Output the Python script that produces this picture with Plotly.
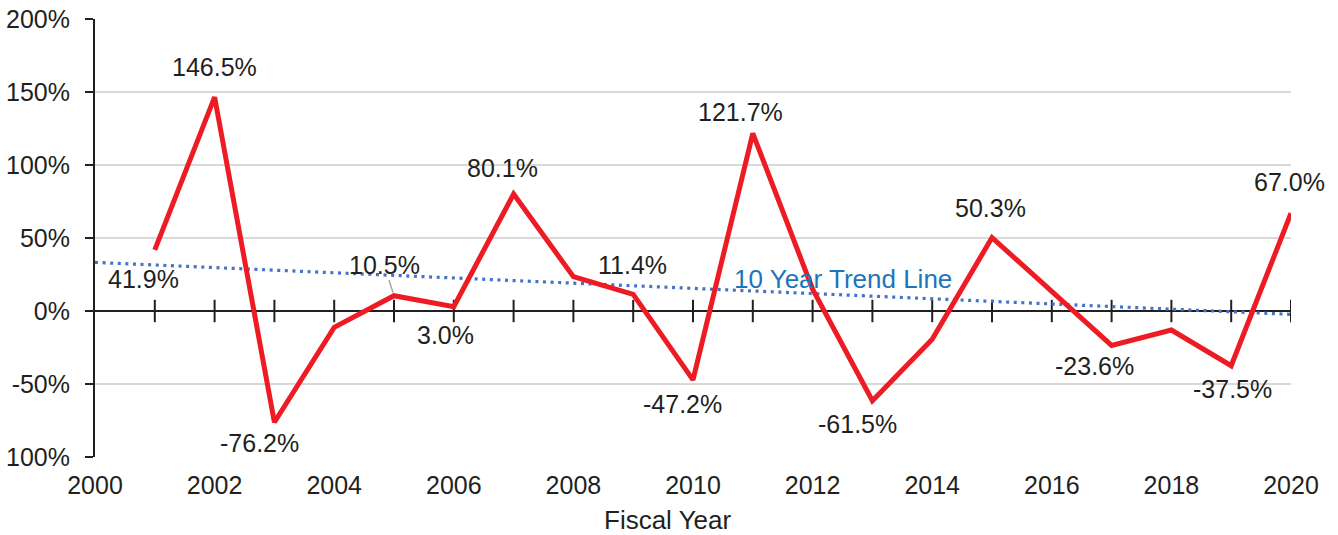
import plotly.graph_objects as go

# Annual change by fiscal year (percent)
years = list(range(2001, 2021))
growth = [41.9, 146.5, -76.2, -11.2, 10.5, 3.0, 80.1, 23.5, 11.4, -47.2,
          121.7, 15.0, -61.5, -19.4, 50.3, 13.5, -23.6, -13.0, -37.5, 67.0]

# Linear trend endpoints
trend_years = [2000, 2020]
trend_values = [33.3, -2.3]

# Axis ticks
x_ticks = list(range(2000, 2021, 2))
y_ticks = [200, 150, 100, 50, 0, -50, -100]
y_tick_text = ["200%", "150%", "100%", "50%", "0%", "-50%", "100%"]

# Which points get a value label, with pixel offsets (dx, dy; dy up is positive)
label_offsets = {
    2001: (-11, -29), 2002: (0, 30), 2003: (-15, -21), 2006: (-8, -28),
    2007: (-11, 26), 2009: (-1, 29), 2010: (-11, -24), 2011: (-12, 21),
    2013: (-15, -23), 2015: (-2, 30), 2017: (-17, -21), 2019: (1, -23),
    2020: (-2, 31),
}
leader_label_year = 2005

INK = "#231f20"
FONT = "Liberation Sans, Arial, sans-serif"
FS = 25
FS_BIG = 26

fig = go.Figure()

# Year tick marks sitting on the zero line
fig.add_trace(go.Scatter(
    x=years, y=[0] * len(years), mode="markers",
    marker=dict(symbol="line-ns", size=16, line=dict(width=2, color=INK)),
    hoverinfo="skip", showlegend=False,
))

# Trend line
fig.add_trace(go.Scatter(
    x=trend_years, y=trend_values, mode="lines",
    line=dict(color="#4472c4", width=3.2, dash="3px,4.6px"),
    hoverinfo="skip", showlegend=False,
))

# Main series
fig.add_trace(go.Scatter(
    x=years, y=growth, mode="lines",
    line=dict(color="#ed1c24", width=5),
    showlegend=False,
))

annotations = []
for yr, val in zip(years, growth):
    if yr in label_offsets:
        dx, dy = label_offsets[yr]
        annotations.append(dict(
            x=yr, y=val, xref="x", yref="y", text=f"{val:.1f}%",
            showarrow=False, xshift=dx, yshift=dy,
            font=dict(size=FS, color=INK, family=FONT),
        ))
    elif yr == leader_label_year:
        annotations.append(dict(
            x=yr, y=val, xref="x", yref="y", text=f"{val:.1f}%",
            showarrow=True, arrowhead=0, arrowwidth=1.5, arrowcolor="#a6a6a6",
            ax=-10, ay=-31, standoff=3,
            font=dict(size=FS, color=INK, family=FONT),
        ))

# Trend line caption
t_x = 2012.5
t_y = trend_values[0] + (trend_values[1] - trend_values[0]) * (t_x - trend_years[0]) / (trend_years[1] - trend_years[0])
annotations.append(dict(
    x=t_x, y=t_y, xref="x", yref="y", text="10 Year Trend Line",
    showarrow=False, yshift=16,
    font=dict(size=FS_BIG, color="#1b75bc", family=FONT),
))

# Axis title
annotations.append(dict(
    x=0.4787, y=-0.143, xref="paper", yref="paper", text="Fiscal Year",
    showarrow=False, yanchor="middle",
    font=dict(size=FS_BIG, color=INK, family=FONT),
))

fig.update_layout(
    width=1338, height=535,
    margin=dict(l=95, r=47, t=19, b=78, autoexpand=False),
    plot_bgcolor="white", paper_bgcolor="white",
    font=dict(family=FONT, size=FS, color=INK),
    annotations=annotations,
    xaxis=dict(
        range=[2000, 2020], tickvals=x_ticks, ticktext=[str(v) for v in x_ticks],
        showgrid=False, showline=False, zeroline=False, ticks="",
        ticklabelstandoff=11, automargin=False,
        tickfont=dict(size=FS, color=INK, family=FONT),
    ),
    yaxis=dict(
        range=[-100, 200], tickvals=y_ticks, ticktext=y_tick_text,
        showgrid=True, gridcolor="#d9d9d9", gridwidth=1.5,
        zeroline=True, zerolinecolor=INK, zerolinewidth=2,
        showline=True, linecolor=INK, linewidth=2,
        ticks="outside", ticklen=8, tickwidth=2, tickcolor=INK,
        ticklabelstandoff=10, automargin=False,
        tickfont=dict(size=FS, color=INK, family=FONT),
    ),
)

fig.write_html("out.html")
